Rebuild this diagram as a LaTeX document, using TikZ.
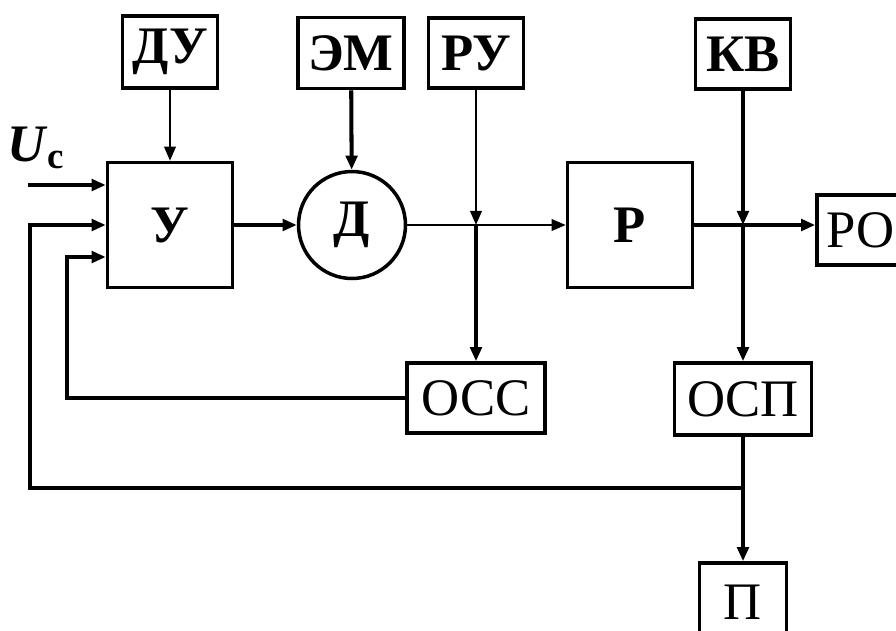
\documentclass[tikz,border=0pt]{standalone}
\usepackage{fontspec}
\setmainfont{Liberation Serif}
\usetikzlibrary{arrows.meta,positioning,calc}
\tikzset{
  blk/.style  ={draw,line width=2pt,inner sep=0pt,font=\fontsize{30}{30}\selectfont},
  blkb/.style ={blk,font=\fontsize{30}{30}\selectfont\bfseries},
  ln/.style   ={line width=2.3pt},
  thn/.style  ={line width=1.3pt},
  ar/.style   ={-{Triangle[length=8pt,width=6.5pt]}},
}
\begin{document}
\begin{tikzpicture}[x=0.02cm,y=-0.02cm]
  \useasboundingbox (0,0) rectangle (896,630);
  % upper blocks
  \node[blkb,minimum width=1.9cm,minimum height=1.44cm]  (du) at (170,52) {ДУ};
  \node[blkb,minimum width=2.12cm,minimum height=1.42cm] (em) at (351,53) {ЭМ};
  \node[blkb,minimum width=1.9cm,minimum height=1.4cm]   (ru) at (476,53) {РУ};
  \node[blkb,minimum width=1.9cm,minimum height=1.4cm]   (kv) at (743,54) {КВ};
  % main row
  \node[blkb,minimum size=2.5cm] (u) at (170,225) {У};
  \node[circle,draw,line width=2pt,inner sep=0pt,minimum size=2.14cm,
        font=\fontsize{30}{30}\selectfont\bfseries] (d) at (352,225) {Д};
  \node[blkb,minimum size=2.5cm] (r) at (630,225) {Р};
  \node[blk,minimum width=1.76cm,minimum height=1.4cm] (ro) at (861,230) {РО};
  % feedback blocks
  \node[blk,minimum width=2.76cm,minimum height=1.4cm]  (oss) at (476,398) {ОСС};
  \node[blk,minimum width=2.74cm,minimum height=1.44cm] (osp) at (743,399) {ОСП};
  \node[blk,minimum width=1.74cm,minimum height=1.56cm] (p)   at (743,602) {П};
  % input
  \coordinate (uc) at (28,185);
  \node[font=\fontsize{30}{30}\selectfont,inner sep=0pt] (ucl) at (36,148)
    {\textbf{\textit{U}}\textsubscript{\bfseries c}};
  \draw[ln,ar] (uc) -- (uc -| u.west);
  % crossings and branch point
  \coordinate (x1) at (ru.south |- d.east);
  \coordinate (x2) at (kv.south |- r.east);
  \coordinate (j)  at (743,488);
  \coordinate (c1) at (67,257);
  \coordinate (c2) at (30,225);
  % forward path
  \draw[thn,ar] (du) -- (u);
  \draw[ln,ar]  (em) -- (d);
  \draw[ln,ar]  (u) -- (d);
  \draw[thn,ar] (d.east) -- (r.west);
  \draw[thn,ar] (ru) -- (x1);
  \draw[ln,ar]  (x1) -- (oss);
  \draw[ln,ar]  (r.east) -- (r.east -| ro.west);
  \draw[ln,ar]  (kv) -- (x2);
  \draw[ln,ar]  (x2) -- (osp);
  % feedback
  \draw[ln,ar]  (osp) -- (p);
  \draw[ln,ar]  (oss.west) -| (c1) -- (c1 -| u.west);
  \draw[ln,ar]  (j) -| (c2) -- (c2 -| u.west);
\end{tikzpicture}
\end{document}
